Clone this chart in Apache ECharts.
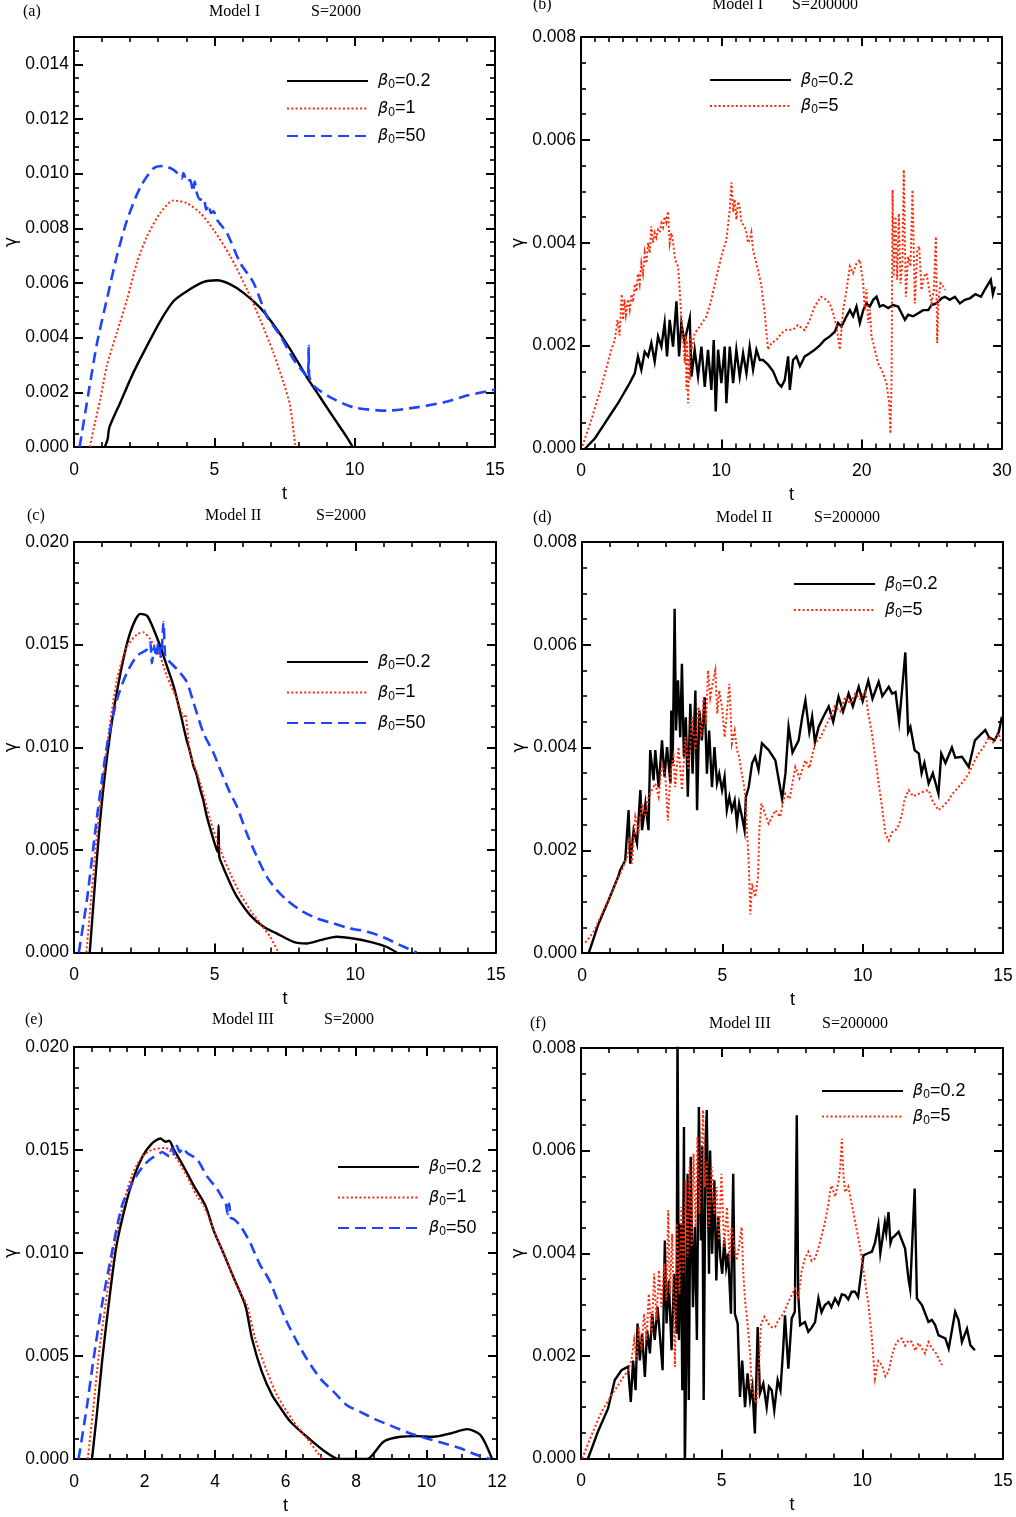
<!DOCTYPE html>
<html><head><meta charset="utf-8">
<script src="https://cdn.jsdelivr.net/npm/echarts@6/dist/echarts.min.js"></script>
<style>html,body{margin:0;padding:0;background:#fff}#c{width:1016px;height:1517px}</style>
</head><body><div id="c"></div>
<script>
// ---------------- DATA: [t, gamma] ----------------
// (a) Model I, S=2000
const a_beta02 = [[1.1,0],[1.2,0.0003],[1.26,0.00072],[1.65,0.00163],[2.12,0.00273],[2.6,0.0037],[3.07,0.0046],[3.55,0.00534],[4.02,0.0057],[4.6,0.00603],[5.09,0.0061],[5.57,0.00595],[6.04,0.00564],[6.63,0.0051],[7.1,0.00449],[7.7,0.00358],[8.3,0.00255],[8.77,0.00182],[9.24,0.00109],[9.72,0.00036],[9.93,0]];
const a_beta1 = [[0.56,0],[0.75,0.0009],[0.94,0.00176],[1.17,0.00297],[1.53,0.00419],[1.89,0.0054],[2.24,0.00674],[2.6,0.0077],[3.07,0.00856],[3.55,0.00902],[4.02,0.00892],[4.5,0.00856],[4.97,0.00795],[5.57,0.00698],[6.16,0.00577],[6.63,0.00467],[7.1,0.00346],[7.46,0.00237],[7.7,0.00151],[7.88,0.0001],[7.9,0]];
const a_beta50 = [[0.2,0],[0.52,0.002],[0.82,0.0038],[1.17,0.0054],[1.53,0.007],[1.89,0.0083],[2.36,0.0095],[2.84,0.0102],[3.19,0.01028],[3.55,0.01014],[3.73,0.00996],[3.84,0.00983],[3.9,0.01002],[4.02,0.00971],[4.14,0.00977],[4.24,0.00935],[4.3,0.00971],[4.38,0.00928],[4.5,0.00905],[4.62,0.0091],[4.71,0.00868],[4.79,0.00886],[4.88,0.00856],[4.97,0.00862],[5.09,0.00832],[5.45,0.00783],[5.92,0.00674],[6.4,0.006],[6.87,0.00479],[7.35,0.00407],[7.82,0.00321],[8.18,0.00273],[8.33,0.00255],[8.36,0.0037],[8.38,0.0026],[8.53,0.00224],[9.24,0.00176],[9.96,0.00145],[11.14,0.00133],[12.2,0.00145],[13.16,0.00163],[14.0,0.00188],[14.82,0.00206],[15,0.0021]];
// (b) Model I, S=200000
const b_beta02 = [[0.3,0],[1.0,0.0002],[1.69,0.00049],[2.2,0.0007],[2.64,0.00088],[3.0,0.00105],[3.47,0.00127],[3.83,0.00146],[4.06,0.00179],[4.3,0.00153],[4.54,0.00188],[4.78,0.00179],[5.01,0.00205],[5.25,0.00169],[5.49,0.00218],[5.73,0.00198],[5.96,0.00244],[6.13,0.00179],[6.32,0.0025],[6.56,0.00198],[6.8,0.00286],[6.99,0.00179],[7.15,0.00244],[7.39,0.00205],[7.51,0.00224],[7.75,0.00253],[7.87,0.0014],[8.1,0.00192],[8.34,0.0014],[8.58,0.00198],[8.82,0.0012],[9.05,0.00192],[9.29,0.00114],[9.46,0.00211],[9.6,0.00072],[9.77,0.00192],[10.0,0.00127],[10.24,0.00198],[10.36,0.00088],[10.6,0.00198],[10.84,0.00127],[11.07,0.00192],[11.31,0.0014],[11.55,0.00185],[11.79,0.00146],[12.02,0.00198],[12.26,0.00153],[12.5,0.00192],[12.74,0.00172],[12.97,0.00172],[13.33,0.00163],[13.69,0.0015],[14.04,0.00127],[14.28,0.0012],[14.52,0.00133],[14.76,0.00179],[14.88,0.00114],[15.11,0.00172],[15.35,0.00179],[15.6,0.0016],[15.94,0.00179],[16.3,0.00185],[16.65,0.00192],[17.0,0.002],[17.36,0.00211],[17.73,0.00218],[18.09,0.00227],[18.32,0.00244],[18.56,0.00237],[18.92,0.00257],[19.16,0.00269],[19.39,0.00257],[19.63,0.00276],[19.87,0.00244],[20.11,0.00269],[20.34,0.00282],[20.58,0.00276],[20.82,0.00289],[21.06,0.00295],[21.29,0.00276],[21.53,0.00279],[21.89,0.00273],[22.24,0.00279],[22.6,0.00276],[22.84,0.00263],[23.08,0.0025],[23.31,0.0026],[23.67,0.00257],[24.03,0.00263],[24.38,0.00269],[24.74,0.00269],[24.98,0.00279],[25.33,0.00282],[25.69,0.00292],[25.93,0.00295],[26.28,0.00289],[26.64,0.00295],[27.0,0.00282],[27.35,0.00289],[27.71,0.00292],[28.1,0.003],[28.5,0.00295],[28.8,0.0031],[29.2,0.00328],[29.35,0.003],[29.5,0.00315]];
const b_beta5 = [[0.1,0.00005],[0.74,0.00056],[1.45,0.0012],[2.16,0.00192],[2.4,0.0021],[2.6,0.0025],[2.75,0.0022],[2.9,0.003],[3.0,0.0025],[3.1,0.0029],[3.2,0.0026],[3.35,0.0029],[3.47,0.0027],[3.6,0.003],[3.71,0.00285],[3.83,0.0032],[3.95,0.00305],[4.06,0.0034],[4.18,0.0032],[4.3,0.0036],[4.42,0.0034],[4.54,0.0038],[4.66,0.0036],[4.78,0.004],[4.9,0.0038],[5.01,0.00432],[5.13,0.004],[5.25,0.00419],[5.37,0.0041],[5.49,0.00425],[5.61,0.0042],[5.73,0.00438],[5.85,0.0043],[5.96,0.00451],[6.08,0.0044],[6.2,0.00461],[6.32,0.00399],[6.44,0.00419],[6.56,0.004],[6.68,0.00373],[6.8,0.0036],[6.92,0.00354],[7.03,0.00308],[7.15,0.00257],[7.27,0.00211],[7.39,0.00166],[7.45,0.0022],[7.51,0.00114],[7.57,0.0021],[7.63,0.00088],[7.69,0.0018],[7.75,0.00133],[7.81,0.0022],[7.87,0.00192],[8.1,0.00224],[8.46,0.00237],[8.94,0.00257],[9.29,0.00289],[9.65,0.00334],[10.0,0.00373],[10.36,0.00406],[10.6,0.00464],[10.72,0.00517],[10.85,0.0046],[10.95,0.00484],[11.07,0.00445],[11.2,0.0048],[11.31,0.00471],[11.43,0.0044],[11.55,0.00438],[11.67,0.0043],[11.79,0.00419],[11.9,0.004],[12.02,0.00406],[12.14,0.0042],[12.26,0.00386],[12.62,0.00347],[12.86,0.00315],[13.09,0.00263],[13.33,0.00192],[13.57,0.00205],[13.93,0.00211],[14.28,0.00224],[14.64,0.00231],[15.11,0.00231],[15.46,0.0024],[15.94,0.0023],[16.3,0.0025],[16.65,0.00276],[17.1,0.00295],[17.5,0.00289],[17.73,0.00282],[17.97,0.00263],[18.21,0.00237],[18.44,0.00192],[18.68,0.00269],[18.92,0.00308],[19.16,0.00354],[19.39,0.00341],[19.63,0.0036],[19.87,0.00367],[20.11,0.00321],[20.22,0.00269],[20.34,0.0031],[20.46,0.00244],[20.58,0.0027],[20.7,0.00218],[20.94,0.00192],[21.17,0.00166],[21.53,0.00146],[21.77,0.00127],[21.96,0.00088],[22.05,0.00029],[22.13,0.00127],[22.2,0.00503],[22.29,0.00334],[22.41,0.00451],[22.53,0.00328],[22.65,0.00457],[22.77,0.00321],[22.91,0.00367],[23.0,0.00542],[23.15,0.00295],[23.31,0.00373],[23.48,0.00354],[23.62,0.00503],[23.79,0.00282],[23.96,0.00386],[24.1,0.00393],[24.26,0.00308],[24.43,0.00334],[24.62,0.00341],[24.81,0.00308],[24.98,0.00282],[25.14,0.00308],[25.29,0.00412],[25.38,0.00205],[25.48,0.00289],[25.62,0.00321],[25.81,0.00315],[25.93,0.00308]];
// (c) Model II, S=2000
const c_beta02 = [[0.56,0],[0.94,0.0066],[1.29,0.0107],[1.65,0.0136],[2.0,0.0156],[2.36,0.0165],[2.6,0.0164],[2.83,0.01575],[3.07,0.0149],[3.3,0.01396],[3.54,0.01298],[3.78,0.01168],[4.0,0.01037],[4.1,0.0099],[4.25,0.00907],[4.35,0.0087],[4.49,0.00793],[4.6,0.0074],[4.72,0.00663],[4.96,0.00549],[5.1,0.0049],[5.14,0.0062],[5.16,0.0047],[5.2,0.0045],[5.55,0.00337],[5.79,0.00272],[6.26,0.00182],[6.74,0.00125],[7.2,0.00093],[7.8,0.00052],[8.27,0.00044],[8.75,0.0006],[9.34,0.00077],[9.93,0.00068],[10.52,0.00052],[11.1,0.00028],[11.47,0]];
const c_beta1 = [[0.44,0],[0.82,0.0058],[1.17,0.01005],[1.53,0.0133],[1.88,0.0149],[2.24,0.0155],[2.47,0.0156],[2.71,0.01526],[3.07,0.0144],[3.3,0.01347],[3.66,0.01233],[3.9,0.0115],[3.95,0.0116],[4.13,0.00972],[4.49,0.00826],[4.84,0.00647],[5.2,0.005],[5.55,0.00386],[5.9,0.00288],[6.26,0.00207],[6.62,0.00142],[6.97,0.00077],[7.27,0]];
const c_beta50 = [[0.17,0],[0.46,0.00256],[0.82,0.00663],[1.17,0.01005],[1.53,0.01233],[1.88,0.01363],[2.24,0.01445],[2.6,0.01477],[2.71,0.0151],[2.77,0.0141],[2.85,0.0149],[2.92,0.0144],[3.0,0.0151],[3.09,0.0144],[3.18,0.0161],[3.24,0.0144],[3.3,0.0143],[3.66,0.0138],[4.0,0.0132],[4.25,0.01217],[4.6,0.0107],[4.96,0.00972],[5.2,0.0089],[5.55,0.00777],[5.79,0.00712],[6.14,0.00581],[6.5,0.00467],[6.85,0.0037],[7.2,0.00305],[7.56,0.00256],[8.04,0.00207],[8.63,0.00166],[9.22,0.00142],[9.81,0.00117],[10.17,0.00109],[10.64,0.00093],[11.1,0.00068],[11.59,0.00036],[12.18,0]];
// (d) Model II, S=200000
const d_beta02 = [[0.24,0],[0.59,0.00057],[0.95,0.00103],[1.3,0.0015],[1.36,0.00161],[1.54,0.0018],[1.66,0.00278],[1.72,0.00174],[1.84,0.00239],[1.96,0.00213],[2.08,0.00317],[2.14,0.00239],[2.26,0.00291],[2.37,0.00239],[2.43,0.00395],[2.55,0.00336],[2.61,0.00395],[2.73,0.00323],[2.85,0.00414],[2.94,0.00343],[3.03,0.00401],[3.15,0.0033],[3.18,0.00472],[3.23,0.00369],[3.3,0.0067],[3.35,0.00433],[3.42,0.00531],[3.5,0.0042],[3.56,0.00563],[3.63,0.00382],[3.7,0.00459],[3.77,0.00304],[3.86,0.00485],[3.94,0.00349],[4.04,0.00511],[4.1,0.00278],[4.18,0.00472],[4.27,0.00414],[4.37,0.00498],[4.45,0.00349],[4.53,0.00433],[4.63,0.00323],[4.72,0.00401],[4.81,0.0033],[4.89,0.00349],[4.99,0.00317],[5.08,0.00343],[5.16,0.00278],[5.25,0.00304],[5.34,0.00278],[5.44,0.00297],[5.52,0.00252],[5.6,0.00291],[5.7,0.00265],[5.79,0.00239],[5.84,0.00304],[5.94,0.00323],[6.06,0.00369],[6.17,0.00382],[6.29,0.00356],[6.41,0.00408],[6.65,0.00395],[6.89,0.00375],[7.0,0.0034],[7.13,0.003],[7.25,0.0035],[7.36,0.0044],[7.5,0.0039],[7.72,0.00414],[7.85,0.0046],[7.96,0.00492],[8.1,0.0043],[8.2,0.0046],[8.3,0.0041],[8.43,0.0044],[8.6,0.0046],[8.79,0.0048],[8.95,0.0045],[9.14,0.00499],[9.3,0.0047],[9.5,0.00505],[9.65,0.0048],[9.86,0.00518],[10.0,0.0049],[10.2,0.0053],[10.35,0.00495],[10.57,0.00528],[10.7,0.005],[10.93,0.00518],[11.05,0.00505],[11.17,0.00508],[11.3,0.0045],[11.4,0.0051],[11.52,0.00585],[11.62,0.0043],[11.7,0.0044],[11.85,0.00395],[12.0,0.00388],[12.1,0.0035],[12.2,0.0037],[12.35,0.0033],[12.5,0.0035],[12.7,0.0031],[12.8,0.00388],[12.95,0.0037],[13.18,0.004],[13.3,0.0038],[13.54,0.00382],[13.78,0.00362],[14.0,0.00414],[14.2,0.00425],[14.37,0.00434],[14.5,0.0042],[14.7,0.00414],[14.85,0.0043],[14.96,0.0046]];
const d_beta5 = [[0.12,0.0002],[0.4,0.0004],[0.7,0.00075],[1.0,0.0011],[1.19,0.00135],[1.42,0.00161],[1.6,0.00187],[1.72,0.00226],[1.78,0.00174],[1.9,0.00265],[2.02,0.00239],[2.14,0.00291],[2.26,0.00265],[2.37,0.00304],[2.49,0.00317],[2.61,0.0033],[2.73,0.00304],[2.85,0.00369],[2.97,0.00343],[3.06,0.00258],[3.15,0.00349],[3.26,0.00382],[3.32,0.00323],[3.44,0.00401],[3.56,0.00317],[3.68,0.0042],[3.8,0.00356],[3.92,0.00459],[4.04,0.00395],[4.15,0.00479],[4.25,0.0042],[4.33,0.00498],[4.42,0.00446],[4.49,0.0055],[4.57,0.00498],[4.65,0.00524],[4.75,0.0055],[4.82,0.00466],[4.89,0.00511],[4.99,0.00479],[5.08,0.0042],[5.16,0.00466],[5.25,0.00524],[5.34,0.00408],[5.44,0.00433],[5.52,0.00395],[5.6,0.00382],[5.67,0.00356],[5.76,0.0033],[5.82,0.00304],[5.88,0.00239],[5.94,0.00174],[6.0,0.00075],[6.06,0.00135],[6.17,0.00109],[6.27,0.00148],[6.32,0.00239],[6.39,0.00291],[6.65,0.00252],[6.89,0.00278],[7.05,0.00265],[7.24,0.0031],[7.4,0.003],[7.6,0.00362],[7.75,0.0034],[7.96,0.00375],[8.1,0.0036],[8.3,0.00408],[8.5,0.0042],[8.67,0.0044],[8.85,0.0046],[9.0,0.0048],[9.2,0.0047],[9.38,0.00499],[9.55,0.00485],[9.74,0.00505],[9.9,0.00495],[10.1,0.00508],[10.2,0.00466],[10.33,0.00427],[10.45,0.0038],[10.57,0.0033],[10.7,0.0028],[10.81,0.00232],[10.93,0.00219],[11.05,0.00235],[11.17,0.00239],[11.3,0.0025],[11.4,0.00271],[11.5,0.003],[11.64,0.00317],[11.8,0.00305],[12.0,0.0031],[12.2,0.00315],[12.35,0.00317],[12.5,0.00295],[12.7,0.00278],[12.85,0.00285],[13.06,0.00297],[13.2,0.0031],[13.42,0.00323],[13.6,0.00335],[13.78,0.00349],[13.95,0.0037],[14.13,0.00388],[14.3,0.004],[14.49,0.0042],[14.65,0.0041],[14.84,0.00427],[14.96,0.00408]];
// (e) Model III, S=2000
const e_beta02 = [[0.51,0],[0.65,0.0022],[0.8,0.0048],[0.98,0.00745],[1.2,0.0103],[1.46,0.0123],[1.7,0.0137],[1.95,0.0147],[2.2,0.0153],[2.45,0.01556],[2.6,0.0154],[2.7,0.01545],[2.83,0.01503],[3.11,0.0142],[3.4,0.01326],[3.73,0.0123],[3.96,0.0111],[4.25,0.00995],[4.53,0.0088],[4.86,0.00745],[5.05,0.00584],[5.33,0.00423],[5.62,0.0031],[5.85,0.0025],[6.14,0.00181],[6.66,0.001],[7.13,0.00035],[7.51,0],[8.31,0],[8.78,0.00084],[9.26,0.00108],[9.73,0.00111],[10.2,0.00108],[10.68,0.00124],[11.15,0.00145],[11.53,0.00116],[11.86,0]];
const e_beta1 = [[0.39,0],[0.55,0.0025],[0.7,0.005],[0.89,0.00745],[1.1,0.0099],[1.39,0.0123],[1.65,0.0138],[1.9,0.0146],[2.2,0.015],[2.6,0.0151],[2.9,0.0146],[3.2,0.01374],[3.49,0.01277],[3.68,0.0123],[4.06,0.0107],[4.34,0.0096],[4.62,0.0084],[4.91,0.00745],[5.14,0.00584],[5.48,0.00423],[5.76,0.0031],[6.23,0.00181],[6.61,0.001],[6.89,0.00035],[7.04,0]];
const e_beta50 = [[0.13,0],[0.37,0.0026],[0.55,0.0048],[0.79,0.00745],[1.05,0.0098],[1.36,0.0123],[1.65,0.0134],[1.95,0.0142],[2.2,0.0146],[2.4,0.0148],[2.5,0.0149],[2.6,0.0148],[2.7,0.0147],[2.78,0.0151],[2.85,0.0148],[2.92,0.0152],[3.0,0.0149],[3.1,0.0151],[3.2,0.01487],[3.49,0.01455],[3.77,0.01374],[4.06,0.0131],[4.2,0.0127],[4.3,0.01245],[4.36,0.0119],[4.4,0.0124],[4.45,0.0117],[4.53,0.01165],[4.72,0.01132],[5.0,0.0105],[5.1,0.0101],[5.29,0.00939],[5.4,0.0091],[5.57,0.00858],[5.76,0.00777],[6.04,0.00665],[6.33,0.00568],[6.6,0.00487],[6.99,0.0039],[7.37,0.00326],[7.74,0.00261],[8.12,0.00229],[8.6,0.00189],[9.07,0.00156],[9.54,0.00124],[10.01,0.001],[10.49,0.00076],[10.96,0.00052],[11.43,0.00019],[11.81,0]];
// (f) Model III, S=200000
const f_beta02 = [[0.25,0],[0.6,0.00052],[0.96,0.00097],[1.2,0.00153],[1.44,0.00172],[1.67,0.00179],[1.77,0.0011],[1.85,0.00191],[1.94,0.00133],[2.01,0.00263],[2.09,0.00191],[2.17,0.00243],[2.27,0.00159],[2.35,0.0025],[2.45,0.00205],[2.53,0.00282],[2.62,0.00231],[2.72,0.00295],[2.8,0.00243],[2.9,0.00172],[2.98,0.00425],[3.04,0.00263],[3.12,0.00347],[3.22,0.00211],[3.31,0.0036],[3.4,0.00243],[3.43,0.0085],[3.48,0.00231],[3.55,0.00458],[3.6,0.00133],[3.66,0.00646],[3.69,-0.0003],[3.74,0.00198],[3.79,0.00555],[3.83,0.00114],[3.9,0.00588],[3.98,0.00295],[4.05,0.00451],[4.12,0.00231],[4.19,0.00685],[4.26,0.00425],[4.31,0.00607],[4.36,0.00114],[4.43,0.0062],[4.47,0.00679],[4.55,0.0036],[4.59,0.006],[4.66,0.00399],[4.74,0.00542],[4.81,0.00347],[4.88,0.00471],[4.95,0.00393],[5.02,0.0036],[5.09,0.00425],[5.16,0.00373],[5.23,0.00399],[5.33,0.00282],[5.41,0.00555],[5.47,0.00282],[5.57,0.00263],[5.65,0.0012],[5.73,0.00191],[5.83,0.001],[5.92,0.00166],[6.01,0.00114],[6.09,0.0014],[6.18,0.00049],[6.28,0.00256],[6.36,0.00127],[6.48,0.00146],[6.6,0.001],[6.68,0.0014],[6.78,0.00133],[6.87,0.00094],[6.99,0.00153],[7.09,0.00133],[7.19,0.00217],[7.25,0.00279],[7.37,0.00175],[7.49,0.00273],[7.6,0.00286],[7.67,0.00669],[7.72,0.0032],[7.79,0.0026],[7.96,0.00266],[8.08,0.00247],[8.2,0.00255],[8.32,0.00266],[8.44,0.00312],[8.55,0.00285],[8.67,0.00299],[8.8,0.00305],[8.9,0.00295],[9.03,0.00312],[9.15,0.003],[9.27,0.0032],[9.39,0.00318],[9.5,0.0031],[9.62,0.00325],[9.74,0.00325],[9.85,0.00315],[9.92,0.00312],[10.04,0.00396],[10.2,0.004],[10.34,0.00403],[10.45,0.0042],[10.57,0.00455],[10.64,0.004],[10.7,0.00403],[10.8,0.0046],[10.85,0.0044],[10.93,0.0048],[11.0,0.0042],[11.05,0.00429],[11.17,0.00435],[11.29,0.00442],[11.52,0.00409],[11.64,0.0035],[11.7,0.0033],[11.76,0.00331],[11.86,0.00526],[11.94,0.00312],[12.12,0.00299],[12.35,0.00266],[12.47,0.0027],[12.59,0.0026],[12.71,0.0024],[12.95,0.00234],[13.07,0.00214],[13.3,0.00286],[13.42,0.0027],[13.54,0.00227],[13.72,0.00253],[13.84,0.00221],[14.0,0.00211]];
const f_beta5 = [[0.04,0],[0.37,0.00045],[0.72,0.0009],[1.08,0.00123],[1.2,0.00133],[1.44,0.00153],[1.67,0.00172],[1.79,0.00191],[1.89,0.00231],[1.97,0.00191],[2.05,0.00256],[2.15,0.00211],[2.24,0.00282],[2.33,0.00231],[2.41,0.00321],[2.51,0.00243],[2.6,0.0036],[2.68,0.00269],[2.77,0.00367],[2.86,0.00295],[2.96,0.0038],[3.04,0.00308],[3.1,0.00484],[3.16,0.00321],[3.24,0.00438],[3.34,0.00179],[3.41,0.00458],[3.5,0.00321],[3.57,0.0049],[3.64,0.0036],[3.72,0.00542],[3.79,0.00393],[3.86,0.00568],[3.93,0.00412],[4.0,0.00594],[4.07,0.00451],[4.14,0.00627],[4.21,0.00477],[4.29,0.006],[4.34,0.00679],[4.4,0.00529],[4.47,0.00581],[4.55,0.00451],[4.64,0.00568],[4.74,0.00477],[4.82,0.00529],[4.9,0.00425],[4.99,0.00555],[5.09,0.00412],[5.19,0.0049],[5.28,0.00386],[5.35,0.00451],[5.45,0.00412],[5.53,0.00386],[5.61,0.00412],[5.71,0.00451],[5.77,0.0036],[5.83,0.00308],[5.92,0.00263],[6.01,0.00205],[6.07,0.00133],[6.16,0.0012],[6.24,0.00107],[6.33,0.00191],[6.4,0.00263],[6.52,0.00276],[6.66,0.00263],[6.78,0.00256],[6.9,0.00256],[7.01,0.00269],[7.19,0.00282],[7.37,0.00305],[7.6,0.00331],[7.72,0.0031],[7.84,0.00364],[7.96,0.0039],[8.08,0.00403],[8.2,0.00385],[8.32,0.0039],[8.44,0.0041],[8.56,0.00435],[8.67,0.0046],[8.79,0.00494],[8.85,0.0052],[8.91,0.00532],[9.03,0.0051],[9.15,0.00539],[9.22,0.0057],[9.27,0.00623],[9.33,0.0055],[9.39,0.00519],[9.5,0.0053],[9.63,0.00494],[9.75,0.0046],[9.86,0.00429],[9.98,0.0039],[10.1,0.00344],[10.22,0.00299],[10.34,0.00234],[10.45,0.00156],[10.57,0.0019],[10.7,0.00182],[10.82,0.0016],[10.93,0.00169],[11.05,0.002],[11.17,0.00221],[11.28,0.0023],[11.4,0.00234],[11.52,0.0022],[11.64,0.0023],[11.76,0.00227],[11.88,0.0021],[12.0,0.00225],[12.12,0.00214],[12.23,0.00205],[12.35,0.00227],[12.47,0.00215],[12.59,0.00208],[12.71,0.00195],[12.83,0.00182]];

// axis ranges [min, max, major interval, minor splits]
const xRange15 = [0, 15, 5, 5];
const xRange30 = [0, 30, 10, 10];
const xRange12 = [0, 12, 2, 4];
const yRange015 = [0, 0.015, 0.002, 0];
const yRange008 = [0, 0.008, 0.002, 4];
const yRange020 = [0, 0.020, 0.005, 5];

// ---------------- STYLE / LAYOUT ----------------
const FONT = '"Liberation Sans", Arial, sans-serif';
const SERIF = '"Liberation Serif", "Times New Roman", serif';
const TICKFS = 17.5;
const LINE = {
  k: {color: '#000000', width: 2.4, type: 'solid'},
  r: {color: '#ff2a0a', width: 2, type: [2, 2.3]},
  b: {color: '#1f44ff', width: 2.6, type: [11, 6]}
};

const panels = [
  {id:'a', smooth:0.25, grid:{left:74, top:37, width:421, height:410}, x:xRange15, y:yRange015, yMinor:0.0005,
   series:[['0.2',a_beta02,'k'],['1',a_beta1,'r'],['50',a_beta50,'b']],
   legend:{left:286, cy:81, step:27.5}, title:{letter:'(a)', lx:23, model:'Model I', mx:209, s:'S=2000', sx:311, y:12}},
  {id:'b', smooth:0, grid:{left:581, top:37, width:421, height:411.5}, x:xRange30, y:yRange008,
   series:[['0.2',b_beta02,'k'],['5',b_beta5,'r']],
   legend:{left:709, cy:80, step:26}, title:{letter:'(b)', lx:533, model:'Model I', mx:712, s:'S=200000', sx:792, y:5}},
  {id:'c', smooth:0.25, grid:{left:74, top:542, width:422, height:410.5}, x:xRange15, y:yRange020,
   series:[['0.2',c_beta02,'k'],['1',c_beta1,'r'],['50',c_beta50,'b']],
   legend:{left:286, cy:662, step:30.5}, title:{letter:'(c)', lx:27, model:'Model II', mx:205, s:'S=2000', sx:316, y:516}},
  {id:'d', smooth:0, grid:{left:582, top:542, width:421, height:411}, x:xRange15, y:yRange008,
   series:[['0.2',d_beta02,'k'],['5',d_beta5,'r']],
   legend:{left:793, cy:584, step:26}, title:{letter:'(d)', lx:533, model:'Model II', mx:716, s:'S=200000', sx:814, y:518}},
  {id:'e', smooth:0.25, grid:{left:74, top:1047, width:423, height:412}, x:xRange12, y:yRange020,
   series:[['0.2',e_beta02,'k'],['1',e_beta1,'r'],['50',e_beta50,'b']],
   legend:{left:337, cy:1167, step:30.5}, title:{letter:'(e)', lx:25, model:'Model III', mx:212, s:'S=2000', sx:324, y:1020}},
  {id:'f', smooth:0, grid:{left:581, top:1048, width:422, height:410.5}, x:xRange15, y:yRange008,
   series:[['0.2',f_beta02,'k'],['5',f_beta5,'r']],
   legend:{left:821, cy:1091, step:25.5}, title:{letter:'(f)', lx:530, model:'Model III', mx:709, s:'S=200000', sx:822, y:1024}}
];

function makeAxis(dim, gi, pos, r, labels, extra) {
  const [min, max, interval, minor] = r;
  const ax = {
    type: 'value', gridIndex: gi, position: pos, offset: 0, min: min, max: max, interval: interval,
    axisLine: {show: true, onZero: false, lineStyle: {color: '#000', width: 2}},
    axisTick: {show: true, inside: true, length: 9, lineStyle: {color: '#000', width: 2}},
    minorTick: {show: minor > 0, splitNumber: minor || 5, length: 5, lineStyle: {color: '#000', width: 1.6}},
    splitLine: {show: false}, minorSplitLine: {show: false},
    axisLabel: {show: labels, color: '#000', fontFamily: FONT, fontSize: TICKFS,
      margin: dim === 'x' ? 14 : 5,
      formatter: dim === 'x' ? (v => String(Math.round(v))) : (v => v.toFixed(3))},
    silent: true, nameMoveOverlap: false
  };
  return Object.assign(ax, extra || {});
}

const option = {animation: false, backgroundColor: '#ffffff', grid: [], xAxis: [], yAxis: [], series: [], legend: [], graphic: []};
const extraGrids = [];
panels.forEach((p, gi) => {
  option.grid.push(Object.assign({containLabel: false, outerBoundsMode: 'none'}, p.grid));
  option.xAxis.push(makeAxis('x', gi, 'bottom', p.x, true, {name: 't', nameLocation: 'middle', nameGap: 38,
    nameTextStyle: {fontFamily: FONT, fontSize: 18, color: '#000'}}));
  option.xAxis.push(makeAxis('x', gi, 'top', p.x, false));
  const yLabelExtra = {name: 'γ', nameLocation: 'middle', nameGap: 54, nameRotate: 90,
    nameTextStyle: {fontFamily: '"DejaVu Sans", sans-serif', fontSize: 17, color: '#000'}};
  if (p.yMinor) yLabelExtra.axisLabel = {show: true, color: '#000', fontFamily: FONT, fontSize: TICKFS, margin: 5,
    formatter: v => v.toFixed(3), showMaxLabel: false};
  option.yAxis.push(makeAxis('y', gi, 'left', p.y, true, yLabelExtra));
  option.yAxis.push(makeAxis('y', gi, 'right', p.y, false));
  if (p.yMinor) extraGrids.push(p);
  const names = [];
  p.series.forEach(([lab, data, sty]) => {
    const name = lab + '|' + p.id;
    names.push(name);
    option.series.push({
      type: 'line', name: name, xAxisIndex: 2 * gi, yAxisIndex: 2 * gi, data: data,
      showSymbol: false, symbol: 'none', clip: true, silent: true, smooth: p.smooth,
      lineStyle: {color: LINE[sty].color, width: LINE[sty].width, type: LINE[sty].type, cap: 'butt', join: 'miter'},
      itemStyle: {color: LINE[sty].color}
    });
  });
  const rowH = 20;
  option.legend.push({
    orient: 'vertical', left: p.legend.left, top: p.legend.cy - rowH / 2, padding: 0,
    itemWidth: 81, itemHeight: 14, itemGap: p.legend.step - rowH, selectedMode: false,
    data: names, itemStyle: {opacity: 0},
    formatter: n => '{g|β}{s|0}{n|=' + n.split('|')[0] + '}',
    textStyle: {fontFamily: FONT, fontSize: 18, color: '#000', rich: {
      g: {fontFamily: '"DejaVu Sans"', fontStyle: 'italic', fontSize: 16, lineHeight: rowH, padding: [0, 0, 0, 5], color: '#000'},
      s: {fontFamily: FONT, fontSize: 12, lineHeight: rowH, verticalAlign: 'bottom', padding: [8, 0, 0, 0], color: '#000'},
      n: {fontFamily: FONT, fontSize: 18, lineHeight: rowH, color: '#000'}
    }}
  });
  const t = p.title;
  [[t.letter, t.lx], [t.model, t.mx], [t.s, t.sx]].forEach(([txt, x]) => {
    option.graphic.push({type: 'text', x: x, y: t.y, silent: true,
      style: {text: txt, fill: '#000', font: '16px ' + SERIF, verticalAlign: 'middle', textVerticalAlign: 'middle'}});
  });
});
// separate overlay grids carrying the short minor ticks for panels whose range is not a multiple of the major step
extraGrids.forEach(p => {
  const gi = option.grid.length;
  option.grid.push(Object.assign({containLabel: false, outerBoundsMode: 'none'}, p.grid));
  option.xAxis.push({type: 'value', gridIndex: gi, min: p.x[0], max: p.x[1], show: false});
  ['left', 'right'].forEach(pos => option.yAxis.push(makeAxis('y', gi, pos, [p.y[0], p.y[1], p.yMinor, 0], false,
    {axisLine: {show: false}, axisTick: {show: true, inside: true, length: 5, lineStyle: {color: '#000', width: 1.6}}})));
});

const chart = echarts.init(document.getElementById('c'), null, {renderer: 'canvas'});
chart.setOption(option);
</script></body></html>
